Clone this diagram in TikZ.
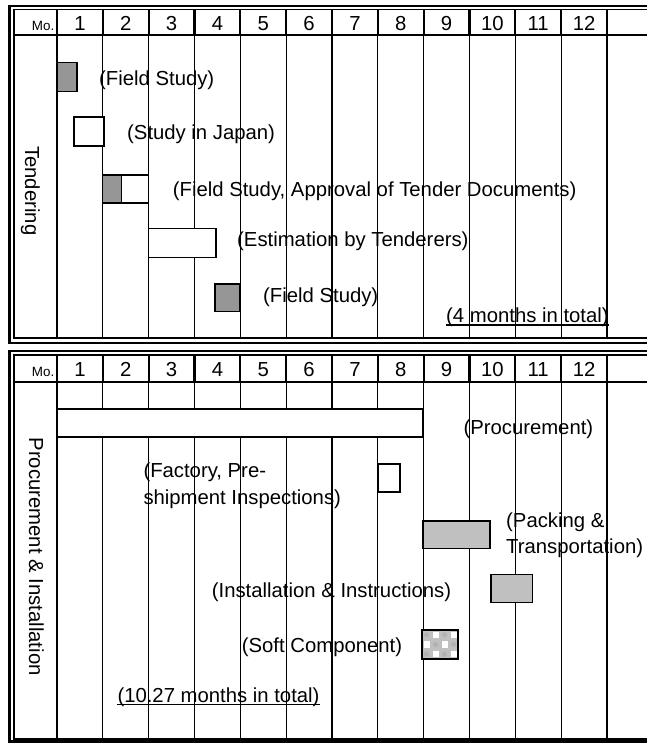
\documentclass[tikz,border=0pt]{standalone}
\usepackage{fontspec}
\setmainfont{Liberation Sans}
\definecolor{darkbox}{RGB}{150,150,150}
\definecolor{lightbox}{RGB}{192,192,192}
\begin{document}
\begin{tikzpicture}[x=1pt,y=-1pt,
  lbl/.style={anchor=base west, inner sep=0pt, font=\fontsize{20.3}{26.3}\selectfont},
  hdr/.style={anchor=base, inner sep=0pt, font=\fontsize{20.3}{24}\selectfont},
  motext/.style={anchor=base east, inner sep=0pt, font=\fontsize{13.4}{15}\selectfont},
  side/.style={anchor=base, inner sep=0pt, rotate=-90, font=\fontsize{20.3}{24}\selectfont},
  hsep/.style={line width=2.2pt},
  bodyline/.style={line width=1.1pt},
  boxline/.style={draw=black, line width=1.3pt},
  outerb/.style={line width=2.6pt},
  innerb/.style={line width=1.7pt},
  uline/.style={line width=1.3pt}]
\useasboundingbox (0,0) rectangle (647,744);
\fill[white] (0,0) rectangle (647,744);

% ================= TOP PANEL =================
\foreach \i in {0,...,12}{
  \pgfmathsetmacro{\xx}{57+\i*45.83}
  \draw[hsep] (\xx,9.5) -- (\xx,35);
}
\draw[line width=2pt] (57,35) -- (57,338);
\foreach \i in {1,...,12}{
  \pgfmathsetmacro{\xx}{57+\i*45.83}
  \draw[bodyline] (\xx,35) -- (\xx,338);
}
\draw[line width=2.5pt] (14,35) -- (647,35);
\node[motext] (mo1) at (54.5,30.7) {Mo.};
\foreach \i in {1,...,12}{
  \pgfmathsetmacro{\xx}{57+(\i-0.5)*45.83}
  \node[hdr] (ta\i) at (\xx,30) {\i};
}
% bars
\draw[boxline, fill=darkbox] (57.5,62.5) rectangle (77,91.5);
\draw[boxline, fill=white] (74,117) rectangle (104,146);
\draw[boxline, fill=darkbox] (102.8,175) rectangle (121.7,203);
\draw[boxline, fill=white] (121.7,175) rectangle (148.5,203);
\draw[boxline, fill=white] (148.5,228.5) rectangle (216,257.5);
\draw[boxline, fill=darkbox] (215,284) rectangle (240,311.5);
% labels
\node[lbl] (l1) at (99,85) {(Field Study)};
\node[lbl] (l2) at (127,139.5) {(Study in Japan)};
\node[lbl] (l3) at (172.7,196) {(Field Study, Approval of Tender Documents)};
\node[lbl] (l4) at (237,246) {(Estimation by Tenderers)};
\node[lbl] (l5) at (263,302.7) {(Field Study)};
\node[lbl] (l6) at (446,322.7) {(4 months in total)};
\draw[uline] ([yshift=-2.3pt]l6.base west) -- ([yshift=-2.3pt]l6.base east);
\node[side] (tend) at (25,190.8) {Tendering};
% borders
\draw[innerb] (647,9.5) -- (14,9.5) -- (14,338) -- (647,338);
\draw[outerb] (647,6) -- (9.5,6) -- (9.5,343) -- (647,343);

% ================= BOTTOM PANEL =================
\foreach \i in {0,...,12}{
  \pgfmathsetmacro{\xx}{57+\i*45.83}
  \draw[hsep] (\xx,355) -- (\xx,382);
}
\draw[line width=2pt] (57,382) -- (57,738);
\foreach \i in {1,...,12}{
  \pgfmathsetmacro{\xx}{57+\i*45.83}
  \draw[bodyline] (\xx,382) -- (\xx,738);
}
\draw[line width=2.5pt] (14,382) -- (647,382);
\node[motext] (mo2) at (54.5,376.5) {Mo.};
\foreach \i in {1,...,12}{
  \pgfmathsetmacro{\xx}{57+(\i-0.5)*45.83}
  \node[hdr] (tb\i) at (\xx,376) {\i};
}
% bars
\draw[boxline, fill=white] (57,409) rectangle (423,437);
\draw[boxline, fill=white] (378,464) rectangle (400,492);
\draw[boxline, fill=lightbox] (423,521) rectangle (490,548.3);
\draw[boxline, fill=lightbox] (491,574.3) rectangle (532.3,602.7);
% checkered box
\begin{scope}
  \clip (422,630) rectangle (458,659);
  \fill[lightbox] (422,630) rectangle (458,659);
  \foreach \r in {0,1,2}{
    \foreach \c in {0,1,2,3}{
      \pgfmathtruncatemacro{\pp}{mod(\r+\c,2)}
      \ifnum\pp=1
        \fill[white] (422+\c*9+1.5,630+\r*9.7+1.5) rectangle ++(6,6.5);
      \else
        \fill[gray!60] (422+\c*9+4.5,630+\r*9.7+4.8) circle (2.6);
      \fi
    }
  }
\end{scope}
\draw[boxline] (422,630) rectangle (458,659);
% labels
\node[lbl] (p1) at (463.3,434.3) {(Procurement)};
\node[lbl] (p2a) at (143.3,477.7) {(Factory, Pre-};
\node[lbl] (p2b) at (143.3,504) {shipment Inspections)};
\node[lbl] (p3a) at (506,527) {(Packing \&};
\node[lbl] (p3b) at (506,553.3) {Transportation)};
\node[lbl] (p4) at (211.7,597.7) {(Installation \& Instructions)};
\node[lbl] (p5) at (241.7,652.7) {(Soft Component)};
\node[lbl] (p6) at (117.3,702.3) {(10.27 months in total)};
\draw[uline] ([yshift=-2.3pt]p6.base west) -- ([yshift=-2.3pt]p6.base east);
\node[side] (proc) at (29,556.7) {Procurement \& Installation};
% borders
\draw[line width=1.5pt] (647,355) -- (14,355) -- (14,738.8) -- (647,738.8);
\draw[outerb] (647,351) -- (9.5,351) -- (9.5,741.3) -- (647,741.3);
\end{tikzpicture}
\end{document}
